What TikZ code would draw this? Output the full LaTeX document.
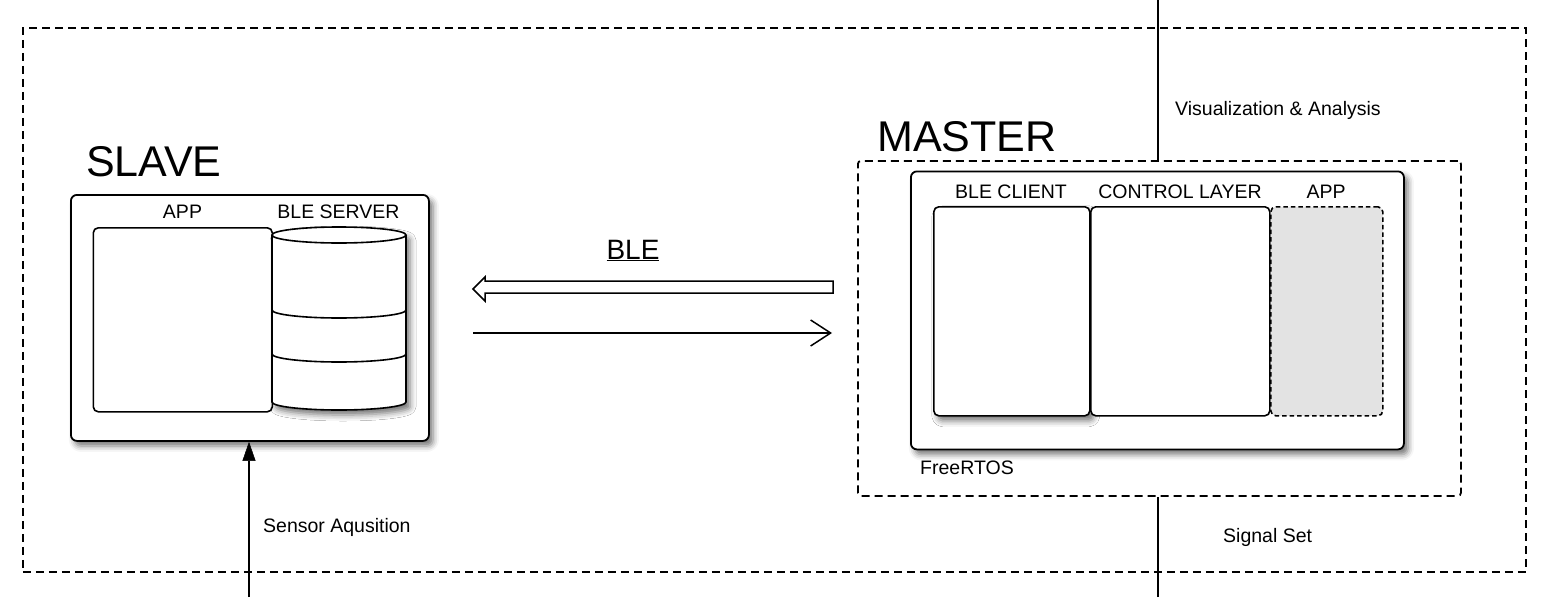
\documentclass[tikz,border=0pt]{standalone}
\usepackage{fontspec}
\setmainfont{Liberation Sans}
\usetikzlibrary{arrows.meta,shadows.blur}
\begin{document}
\begin{tikzpicture}[x=1pt,y=-1pt,
 box/.style={draw=black,line width=1.8pt,rounded corners=6pt,fill=white,inner sep=0pt,anchor=north west},
 dbox/.style={draw=black,line width=1.8pt,dash pattern=on 8pt off 5pt,inner sep=0pt,anchor=north west},
 lbl/.style={font=\fontsize{19.5}{22}\selectfont,inner sep=0pt,anchor=base},
 ttl/.style={font=\fontsize{43}{50}\selectfont,inner sep=0pt,anchor=base west},
 sh/.style={blur shadow={shadow xshift=4pt,shadow yshift=-5pt,shadow blur radius=6pt,shadow opacity=55}},
 conn/.style={line width=1.8pt},
]
\useasboundingbox (0,0) rectangle (1550,597);

% outer dashed frame
\node[dbox,minimum width=1503pt,minimum height=544pt] (outer) at (22,27) {};

% ---------------- SLAVE ----------------
\node[ttl] (slavet) at (86,176.5) {SLAVE};
\node[box,sh,minimum width=358pt,minimum height=246pt] (slave) at (70,194) {};
\node[box,line width=1.6pt,rounded corners=5pt,minimum width=179pt,minimum height=184pt] (sapp) at (92.5,227) {};
\node[lbl] (sappt) at (182.5,218) {APP};
\node[lbl] (bleservt) at (338.5,218) {BLE SERVER};

% cylinder (BLE server)
\coordinate (cyl) at (339,235);
\fill[white,sh] (272,235) -- (272,402) arc[start angle=180,end angle=360,x radius=67,y radius=-8] -- (406,235) arc[start angle=0,end angle=180,x radius=67,y radius=-8] -- cycle;
\draw[line width=1.6pt,fill=white] (272,235) -- (272,402) arc[start angle=180,end angle=360,x radius=67,y radius=-8] -- (406,235);
\draw[line width=1.6pt] (cyl) ellipse[x radius=67,y radius=8];
\draw[line width=1.6pt] (272,310) arc[start angle=180,end angle=360,x radius=67,y radius=-8];
\draw[line width=1.6pt] (272,354) arc[start angle=180,end angle=360,x radius=67,y radius=-8];

% ---------------- BLE arrows ----------------
\node[font=\fontsize{28}{32}\selectfont,inner sep=0pt,anchor=base] (blet) at (633,259) {\underline{BLE}};
\coordinate (hA) at (833,287);
\draw[line width=1.5pt,fill=white] (833,281) -- (485,281) -- (485,277) -- (473,289) -- (485,301) -- (485,293) -- (833,293) -- cycle;
\coordinate (fl) at (473,333);
\coordinate (fr) at (832,333);
\draw[line width=1.5pt,-{Straight Barb[length=20pt,width=26pt,line width=1.5pt]}] (fl) -- (fr);

% ---------------- MASTER ----------------
\node[ttl] (mastert) at (877,151.5) {MASTER};
\node[dbox,rounded corners=3pt,minimum width=603pt,minimum height=335pt] (mframe) at (857,160) {};
\node[box,sh,minimum width=493pt,minimum height=278pt] (mbox) at (910,170.5) {};
\node[box,sh,line width=1.6pt,rounded corners=5pt,minimum width=156pt,minimum height=209pt] (bleclient) at (933,206) {};
\node[box,line width=1.6pt,rounded corners=5pt,minimum width=179pt,minimum height=209pt] (ctrl) at (1090,206) {};
\node[box,line width=1.6pt,rounded corners=5pt,dash pattern=on 4.5pt off 3pt,fill=black!11,minimum width=112pt,minimum height=209pt] (mapp) at (1270,206) {};
\node[lbl] (bleclientt) at (1011,198) {BLE CLIENT};
\node[lbl] (ctrlt) at (1180,198) {CONTROL LAYER};
\node[lbl] (mappt) at (1326,198) {APP};
\node[lbl,anchor=base west] (rtos) at (920,474) {FreeRTOS};

% ---------------- external lines ----------------
\coordinate (vtop) at (1158,0);
\coordinate (vbot) at (1158,597);
\draw[conn] (vtop) -- (vtop |- mframe.north);
\draw[conn] (vbot) -- (vbot |- mframe.south);
\node[lbl,anchor=base west] (vis) at (1175,115) {Visualization \& Analysis};
\node[lbl,anchor=base west] (sig) at (1223,542) {Signal Set};

\coordinate (sbot) at (249,597);
\draw[conn,-{Triangle[length=19pt,width=13pt,fill=black,line width=0.5pt]}] (sbot) -- (sbot |- slave.south);
\node[lbl,anchor=base west] (sens) at (263,532) {Sensor Aqusition};
\end{tikzpicture}
\end{document}
